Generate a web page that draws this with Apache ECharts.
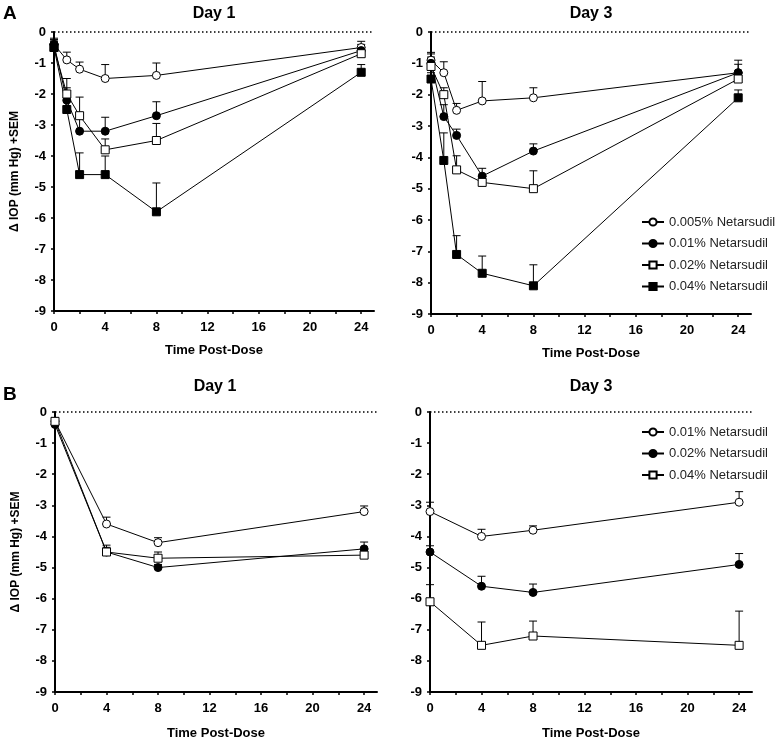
<!DOCTYPE html>
<html><head><meta charset="utf-8">
<script src="https://cdn.jsdelivr.net/npm/echarts@6/dist/echarts.min.js"></script>
<style>html,body{margin:0;padding:0;background:#fff}#c{width:777px;height:741px}</style>
</head><body><div id="c"></div>
<script>
// ---------- data ----------
const timesA = [0, 1, 2, 4, 8, 24];
const timesB = [0, 4, 8, 24];
const xTickLabels = [0, 4, 8, 12, 16, 20, 24];
const xTickMarks = [0, 2, 4, 6, 8, 10, 12, 14, 16, 18, 20, 22, 24];
const dosesA = ['0.005% Netarsudil', '0.01% Netarsudil', '0.02% Netarsudil', '0.04% Netarsudil'];
const dosesB = ['0.01% Netarsudil', '0.02% Netarsudil', '0.04% Netarsudil'];
const panelTitles = ['Day 1', 'Day 3', 'Day 1', 'Day 3'];

// Panel A, Day 1 (mean, +SEM)
const a1Mean005 = [-0.4, -0.9, -1.2, -1.5, -1.4, -0.5];
const a1Sem005  = [0.2, 0.25, 0.23, 0.45, 0.4, 0.2];
const a1Mean01  = [-0.4, -2.2, -3.2, -3.2, -2.7, -0.6];
const a1Sem01   = [0.15, 0.7, 0.6, 0.45, 0.45, 0.2];
const a1Mean02  = [-0.5, -2.0, -2.7, -3.8, -3.5, -0.7];
const a1Sem02   = [0.25, 0.2, 0.6, 0.35, 0.55, 0.2];
const a1Mean04  = [-0.5, -2.5, -4.6, -4.6, -5.8, -1.3];
const a1Sem04   = [0.2, 0.25, 0.7, 0.6, 0.93, 0.25];

// Panel A, Day 3
const a3Mean005 = [-0.9, -1.3, -2.5, -2.2, -2.1, -1.3];
const a3Sem005  = [0.25, 0.35, 0.22, 0.62, 0.32, 0.4];
const a3Mean01  = [-1.0, -2.7, -3.3, -4.6, -3.8, -1.3];
const a3Sem01   = [0.3, 0.38, 0.2, 0.25, 0.23, 0.27];
const a3Mean02  = [-1.1, -2.0, -4.4, -4.8, -5.0, -1.5];
const a3Sem02   = [0.3, 0.22, 0.45, 0.2, 0.57, 0.2];
const a3Mean04  = [-1.5, -4.1, -7.1, -7.7, -8.1, -2.1];
const a3Sem04   = [0.2, 0.88, 0.6, 0.55, 0.67, 0.25];

// Panel B, Day 1
const b1Mean01 = [-0.3, -3.6, -4.2, -3.2];
const b1Sem01  = [0.1, 0.22, 0.16, 0.18];
const b1Mean02 = [-0.4, -4.5, -5.0, -4.4];
const b1Sem02  = [0.1, 0.22, 0.1, 0.22];
const b1Mean04 = [-0.3, -4.5, -4.7, -4.6];
const b1Sem04  = [0.1, 0.15, 0.2, 0.1];

// Panel B, Day 3
const b3Mean01 = [-3.2, -4.0, -3.8, -2.9];
const b3Sem01  = [0.3, 0.23, 0.14, 0.34];
const b3Mean02 = [-4.5, -5.6, -5.8, -4.9];
const b3Sem02  = [0.2, 0.32, 0.27, 0.35];
const b3Mean04 = [-6.1, -7.5, -7.2, -7.5];
const b3Sem04  = [0.55, 0.75, 0.48, 1.1];

// ---------- styling ----------
const FONT = '"Liberation Sans", Arial, sans-serif';
const openCircle   = { symbol: 'circle', size: 8, fill: '#ffffff' };
const filledCircle = { symbol: 'circle', size: 8, fill: '#000000' };
const openSquare   = { symbol: 'rect', size: 8, fill: '#ffffff' };
const filledSquare = { symbol: 'rect', size: 8, fill: '#000000' };

const grids = [
  { left: 54,  top: 32, width: 320, height: 279 },
  { left: 431, top: 32, width: 320, height: 282 },
  { left: 55,  top: 412, width: 322, height: 281 },
  { left: 430, top: 412, width: 322, height: 281 }
];

function xAxisFor(i, nameGap) {
  return {
    type: 'value', gridIndex: i, min: 0, max: 25,
    name: 'Time Post-Dose', nameLocation: 'middle', nameGap: nameGap,
    nameTextStyle: { fontFamily: FONT, fontWeight: 'bold', fontSize: 13, color: '#000' },
    axisLine: { onZero: false, lineStyle: { color: '#000', width: 2 } },
    axisTick: { show: true, length: 3, customValues: xTickMarks, lineStyle: { color: '#000', width: 1.5 } },
    axisLabel: { customValues: xTickLabels, margin: 10, fontFamily: FONT, fontWeight: 'bold', fontSize: 13, color: '#000' },
    splitLine: { show: false }
  };
}
function yAxisFor(i, showName) {
  return {
    type: 'value', gridIndex: i, min: -9, max: 0, interval: 1,
    name: showName ? '\u0394 IOP (mm Hg) +SEM' : '', nameLocation: 'middle', nameGap: 33,
    nameTextStyle: { fontFamily: FONT, fontWeight: 'bold', fontSize: 12, color: '#000' },
    axisLine: { show: true, onZero: false, lineStyle: { color: '#000', width: 2 } },
    axisTick: { show: true, length: 3, lineStyle: { color: '#000', width: 1.5 } },
    axisLabel: { margin: 8, fontFamily: FONT, fontWeight: 'bold', fontSize: 13, color: '#000' },
    splitLine: { show: false }
  };
}

const series = [];
function addGroup(prefix, gi, times, names, means, sems, markers) {
  names.forEach((nm, i) => {
    const m = markers[i];
    const line = {
      name: prefix + '|' + nm, type: 'line', xAxisIndex: gi, yAxisIndex: gi,
      data: times.map((t, j) => [t, means[i][j]]),
      symbol: m.symbol, symbolSize: m.size, showSymbol: true,
      itemStyle: { color: m.fill, borderColor: '#000', borderWidth: 1 },
      lineStyle: { color: '#000', width: 1 },
      z: 4, animation: false
    };
    if (i === 0) {
      line.markLine = {
        silent: true, symbol: ['none', 'none'], label: { show: false },
        lineStyle: { type: [1.5, 2.5], color: '#000', width: 1.5 },
        data: [{ yAxis: 0 }], animation: false
      };
    }
    series.push(line);
    series.push({
      type: 'custom', xAxisIndex: gi, yAxisIndex: gi, z: 2, animation: false, silent: true,
      data: times.map((t, j) => [t, means[i][j], means[i][j] + sems[i][j]]),
      renderItem: function (params, api) {
        const p1 = api.coord([api.value(0), api.value(1)]);
        const p2 = api.coord([api.value(0), api.value(2)]);
        const st = { stroke: '#000', lineWidth: 1 };
        return {
          type: 'group', children: [
            { type: 'line', shape: { x1: p1[0], y1: p1[1], x2: p2[0], y2: p2[1] }, style: st },
            { type: 'line', shape: { x1: p2[0] - 4, y1: p2[1], x2: p2[0] + 4, y2: p2[1] }, style: st }
          ]
        };
      }
    });
  });
}

const markersA = [openCircle, filledCircle, openSquare, filledSquare];
const markersB = [openCircle, filledCircle, openSquare];
addGroup('A1', 0, timesA, dosesA, [a1Mean005, a1Mean01, a1Mean02, a1Mean04], [a1Sem005, a1Sem01, a1Sem02, a1Sem04], markersA);
addGroup('A3', 1, timesA, dosesA, [a3Mean005, a3Mean01, a3Mean02, a3Mean04], [a3Sem005, a3Sem01, a3Sem02, a3Sem04], markersA);
addGroup('B1', 2, timesB, dosesB, [b1Mean01, b1Mean02, b1Mean04], [b1Sem01, b1Sem02, b1Sem04], markersB);
addGroup('B3', 3, timesB, dosesB, [b3Mean01, b3Mean02, b3Mean04], [b3Sem01, b3Sem02, b3Sem04], markersB);

const legendBase = {
  orient: 'vertical', itemWidth: 22, itemHeight: 9, itemGap: 7.5, padding: 0,
  textStyle: { fontFamily: FONT, fontSize: 13, color: '#222', lineHeight: 14 },
  formatter: n => n.split('|')[1], selectedMode: false
};

const titleText = (txt, x, y) => ({
  type: 'text', x: x, y: y,
  style: { text: txt, font: 'bold 16px ' + FONT, fill: '#000', align: 'center', verticalAlign: 'middle' }
});

const option = {
  backgroundColor: '#fff',
  animation: false,
  grid: grids,
  xAxis: [xAxisFor(0, 33), xAxisFor(1, 33), xAxisFor(2, 35), xAxisFor(3, 35)],
  yAxis: [yAxisFor(0, true), yAxisFor(1, false), yAxisFor(2, true), yAxisFor(3, false)],
  legend: [
    Object.assign({}, legendBase, { left: 641, top: 215, data: dosesA.map(d => 'A3|' + d) }),
    Object.assign({}, legendBase, { left: 641, top: 425, data: dosesB.map(d => 'B3|' + d) })
  ],
  graphic: [
    titleText(panelTitles[0], 214, 14),
    titleText(panelTitles[1], 591, 14),
    titleText(panelTitles[2], 215, 387),
    titleText(panelTitles[3], 591, 387),
    { type: 'text', x: 3, y: 14, style: { text: 'A', font: 'bold 19px ' + FONT, fill: '#000', align: 'left', verticalAlign: 'middle' } },
    { type: 'text', x: 3, y: 395, style: { text: 'B', font: 'bold 19px ' + FONT, fill: '#000', align: 'left', verticalAlign: 'middle' } }
  ],
  series: series
};

const chart = echarts.init(document.getElementById('c'), null, { renderer: 'canvas' });
chart.setOption(option);
</script>
</body></html>
